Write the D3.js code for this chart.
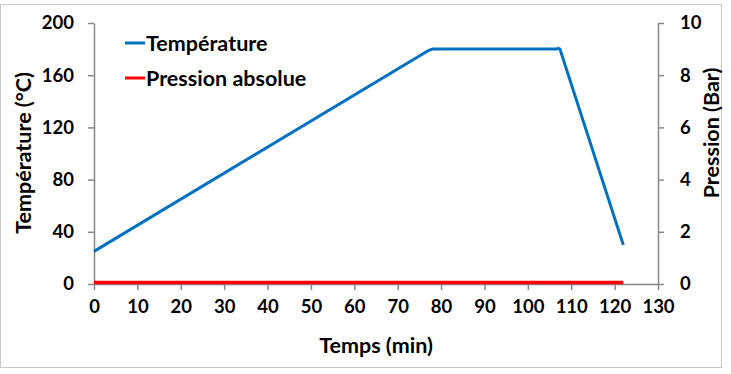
<!DOCTYPE html>
<html>
<head>
<meta charset="utf-8">
<script src="https://cdn.jsdelivr.net/npm/d3@7/dist/d3.min.js"></script>
<style>
  html, body { margin: 0; padding: 0; background: #fff; }
  svg { display: block; font-family: Lato, "Open Sans", sans-serif; font-weight: bold; }
</style>
</head>
<body>
<svg id="chart" width="731" height="374"></svg>
<script>
// Temperature profile (time in min, °C)
const tempTime = [0, 77, 78, 106.5, 107, 107.4, 122];
const tempValues = [25, 178.8, 180, 180, 180.6, 180, 30];
// Absolute pressure (time in min, bar)
const pressTime = [0, 122];
const pressValues = [0.06, 0.06];

const xTicks = d3.range(0, 131, 10);
const yLeftTicks = [0, 40, 80, 120, 160, 200];
const yRightTicks = [0, 2, 4, 6, 8, 10];

const seriesNames = ["Température", "Pression absolue"];
const seriesColors = ["#0070C0", "#FF0000"];

const svg = d3.select("#chart");
const axisColor = "#898989";
const titleSize = "21.5px";

// outer frame
svg.append("rect")
  .attr("x", 0.5).attr("y", 4.5).attr("width", 721).attr("height", 363)
  .attr("fill", "none").attr("stroke", "#c8c8c8").attr("stroke-width", 1);

const plot = { left: 94, right: 658, top: 23, bottom: 284 };

const x = d3.scaleLinear().domain([0, 130]).range([plot.left, plot.right]);
const yL = d3.scaleLinear().domain([0, 200]).range([plot.bottom, plot.top]);
const yR = d3.scaleLinear().domain([0, 10]).range([plot.bottom, plot.top]);

function styleAxis(g) {
  g.select(".domain").attr("stroke", axisColor).attr("stroke-width", 1.5);
  g.selectAll(".tick line").attr("stroke", axisColor).attr("stroke-width", 1.5);
  g.selectAll(".tick text").attr("fill", "#000").style("font-size", "18.5px")
    .style("font-family", "Lato, 'Open Sans', sans-serif").style("font-weight", "bold");
}

svg.append("g")
  .attr("transform", `translate(0,${plot.bottom})`)
  .call(d3.axisBottom(x).tickValues(xTicks).tickSize(6).tickSizeOuter(0).tickPadding(10))
  .call(styleAxis);

svg.append("g")
  .attr("transform", `translate(${plot.left},0)`)
  .call(d3.axisLeft(yL).tickValues(yLeftTicks).tickSize(6).tickSizeOuter(0).tickPadding(14))
  .call(styleAxis);

svg.append("g")
  .attr("transform", `translate(${plot.right},0)`)
  .call(d3.axisRight(yR).tickValues(yRightTicks).tickSize(6).tickSizeOuter(0).tickPadding(16))
  .call(styleAxis);

// series lines
const tempData = tempTime.map((t, i) => [t, tempValues[i]]);
const pressData = pressTime.map((t, i) => [t, pressValues[i]]);

svg.append("path")
  .datum(pressData)
  .attr("fill", "none").attr("stroke", seriesColors[1]).attr("stroke-width", 3.5)
  .attr("d", d3.line().x(d => x(d[0])).y(d => yR(d[1])));

svg.append("path")
  .datum(tempData)
  .attr("fill", "none").attr("stroke", seriesColors[0]).attr("stroke-width", 3)
  .attr("stroke-linejoin", "round")
  .attr("d", d3.line().x(d => x(d[0])).y(d => yL(d[1])));

// axis titles
svg.append("text")
  .attr("transform", `translate(31,153) rotate(-90)`)
  .attr("text-anchor", "middle").style("font-size", titleSize)
  .text("Température (°C)");

svg.append("text")
  .attr("transform", `translate(719,133) rotate(-90)`)
  .attr("text-anchor", "middle").style("font-size", titleSize)
  .text("Pression (Bar)");

svg.append("text")
  .attr("x", (plot.left + plot.right) / 2).attr("y", 353)
  .attr("text-anchor", "middle").style("font-size", titleSize)
  .text("Temps (min)");

// legend
const legend = svg.append("g");
seriesNames.forEach((name, i) => {
  const yy = 43 + i * 35;
  legend.append("line")
    .attr("x1", 125).attr("x2", 145).attr("y1", yy).attr("y2", yy)
    .attr("stroke", seriesColors[i]).attr("stroke-width", 3);
  legend.append("text")
    .attr("x", 146).attr("y", yy).attr("dy", "0.36em")
    .style("font-size", titleSize)
    .text(name);
});
</script>
</body>
</html>
